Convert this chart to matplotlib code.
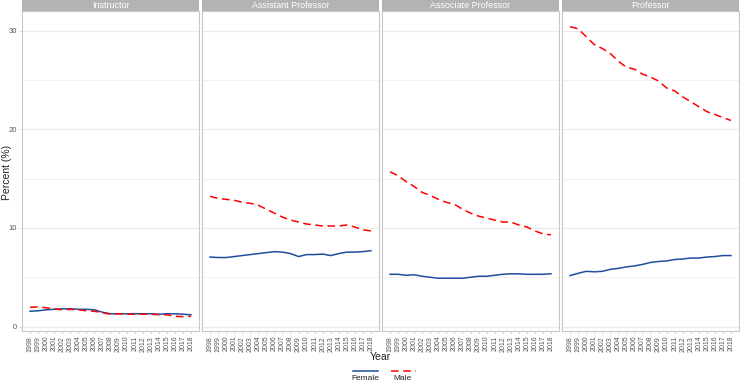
import matplotlib.pyplot as plt
from matplotlib.lines import Line2D

plt.rcParams['font.family'] = ['Liberation Sans', 'DejaVu Sans']

years = list(range(1998, 2019))
ranks = ['Instructor', 'Assistant Professor', 'Associate Professor', 'Professor']

instructor_female = [1.55, 1.6, 1.7, 1.75, 1.8, 1.8, 1.75, 1.75, 1.7, 1.45, 1.3,
                     1.3, 1.3, 1.3, 1.3, 1.3, 1.25, 1.3, 1.3, 1.25, 1.2]
instructor_male = [1.95, 2.0, 1.9, 1.8, 1.7, 1.75, 1.7, 1.6, 1.55, 1.4, 1.25,
                   1.3, 1.25, 1.25, 1.25, 1.25, 1.2, 1.2, 1.05, 1.0, 1.05]
assistant_female = [7.05, 7.0, 7.0, 7.1, 7.2, 7.3, 7.4, 7.5, 7.6, 7.55, 7.4,
                    7.1, 7.3, 7.3, 7.35, 7.2, 7.4, 7.55, 7.55, 7.6, 7.7]
assistant_male = [13.2, 13.0, 12.9, 12.8, 12.6, 12.5, 12.3, 11.9, 11.5, 11.1, 10.8,
                  10.6, 10.4, 10.3, 10.2, 10.2, 10.2, 10.3, 10.1, 9.8, 9.7]
associate_female = [5.3, 5.3, 5.2, 5.25, 5.1, 5.0, 4.9, 4.9, 4.9, 4.9, 5.0,
                    5.1, 5.1, 5.2, 5.3, 5.35, 5.35, 5.3, 5.3, 5.3, 5.35]
associate_male = [15.7, 15.3, 14.7, 14.2, 13.6, 13.3, 12.9, 12.6, 12.4, 11.9, 11.5,
                  11.2, 11.0, 10.8, 10.6, 10.6, 10.3, 10.1, 9.7, 9.4, 9.3]
professor_female = [5.17, 5.4, 5.6, 5.55, 5.6, 5.8, 5.9, 6.05, 6.15, 6.3, 6.5,
                    6.6, 6.65, 6.8, 6.85, 6.95, 6.95, 7.05, 7.1, 7.2, 7.2]
professor_male = [30.4, 30.2, 29.4, 28.6, 28.2, 27.7, 26.9, 26.3, 26.1, 25.6, 25.3,
                  24.9, 24.2, 23.9, 23.3, 22.8, 22.3, 21.8, 21.5, 21.2, 20.9]

female = [instructor_female, assistant_female, associate_female, professor_female]
male = [instructor_male, assistant_male, associate_male, professor_male]

female_color = '#1f4e9e'
male_color = '#ff0000'
grid_color = '#ebebeb'
border_color = '#c8c8c8'
tick_color = '#555555'

W, H = 740, 382
fig = plt.figure(figsize=(W / 100, H / 100), dpi=100)

panel_left = [22, 202, 382, 562]
panel_w = 177
top, bottom = 11, 331

for i, rank in enumerate(ranks):
    ax = fig.add_axes([panel_left[i] / W, 1 - bottom / H, panel_w / W, (bottom - top) / H])
    ax.plot(years, female[i], color=female_color, lw=1.1, zorder=3)
    ax.plot(years, male[i], color=male_color, lw=1.1, ls=(0, (5, 3)), zorder=3)
    ax.set_xlim(1997, 2019)
    ax.set_ylim(-0.45, 32.0)
    ax.set_yticks([0, 10, 20, 30])
    ax.set_yticks([5, 15, 25], minor=True)
    ax.grid(True, axis='y', which='major', color=grid_color, lw=0.8)
    ax.grid(True, axis='y', which='minor', color=grid_color, lw=0.5)
    ax.set_axisbelow(True)
    ax.set_xticks(years)
    ax.set_xticklabels([str(y) for y in years], rotation=90, fontsize=5, color=tick_color)
    ax.tick_params(axis='x', length=2, width=0.5, color=border_color, pad=1.5)
    ax.tick_params(axis='y', which='both', length=0)
    if i == 0:
        ax.tick_params(axis='y', labelsize=5.5, labelcolor=tick_color, length=2,
                       width=0.5, color=border_color, pad=1.5)
        ax.tick_params(axis='y', which='minor', length=0)
    else:
        ax.set_yticklabels([])
    for s in ax.spines.values():
        s.set_color(border_color)
        s.set_linewidth(0.8)

    # facet strip
    strip = fig.add_axes([panel_left[i] / W, 1 - top / H, panel_w / W, top / H])
    strip.set_facecolor('#b3b3b3')
    strip.set_xticks([])
    strip.set_yticks([])
    for s in strip.spines.values():
        s.set_visible(False)
    strip.text(0.5, 0.5, rank, color='white', fontsize=6.5, ha='center', va='center',
               transform=strip.transAxes)

fig.text(7 / W, 1 - 172 / H, 'Percent (%)', rotation=90, fontsize=7.5, ha='center',
         va='center', color='#222222')
fig.text(380 / W, 1 - 357 / H, 'Year', fontsize=7.5, ha='center', va='center',
         color='#222222')

# legend: key lines with labels underneath
leg = fig.add_axes([340 / W, 0, 100 / W, 18 / H])
leg.set_xlim(0, 100)
leg.set_ylim(0, 18)
leg.axis('off')
leg.add_line(Line2D([13, 38], [11, 11], color=female_color, lw=1.1))
leg.add_line(Line2D([51, 76], [11, 11], color=male_color, lw=1.1, ls=(0, (5, 3))))
leg.text(25.5, 3.5, 'Female', fontsize=6, ha='center', va='center', color='#222222')
leg.text(62, 3.5, 'Male', fontsize=6, ha='center', va='center', color='#222222')

fig.savefig('out.png', dpi=100)
